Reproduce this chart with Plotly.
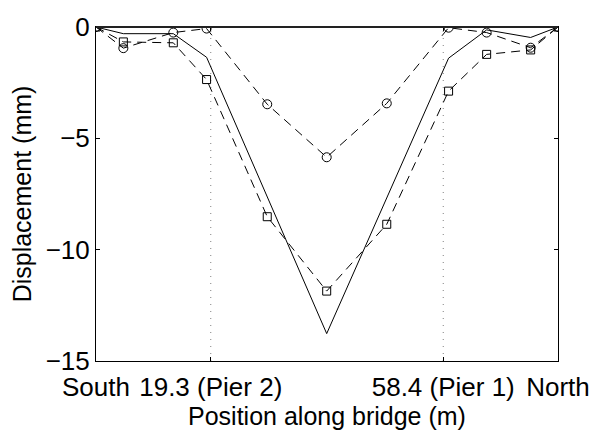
import plotly.graph_objects as go

# Positions along bridge (m)
x_pts = [0, 4.6, 13.0, 18.6, 28.8, 38.8, 48.9, 59.3, 65.7, 73.1, 77.7]
circle_disp = [0, -0.95, -0.25, -0.07, -3.47, -5.85, -3.43, -0.03, -0.25, -0.93, 0]
square_disp = [0, -0.67, -0.71, -2.36, -8.52, -11.86, -8.86, -2.88, -1.23, -1.03, 0]

x_solid = [0, 4.6, 13.0, 18.6, 38.8, 59.3, 65.7, 73.1, 77.7]
solid_disp = [0, -0.30, -0.30, -1.36, -13.77, -1.40, -0.13, -0.47, 0]

pier_x = [19.3, 58.4]
tick_vals = [0, 19.3, 58.4, 77.7]
tick_text = ["South", "19.3 (Pier 2)", "58.4 (Pier 1)", "North"]
y_ticks = [0, -5, -10, -15]

fig = go.Figure()

for px in pier_x:
    fig.add_trace(go.Scatter(x=[px, px], y=[-15, 0], mode="lines",
                             line=dict(color="#808080", width=1, dash="1px,6px"),
                             showlegend=False, hoverinfo="skip"))

fig.add_trace(go.Scatter(x=x_pts, y=circle_disp, mode="lines+markers",
                         line=dict(color="black", width=1, dash="9px,6px"),
                         marker=dict(symbol="circle-open", size=9,
                                     color="black", line=dict(color="black", width=1)),
                         showlegend=False))
fig.add_trace(go.Scatter(x=x_pts, y=square_disp, mode="lines+markers",
                         line=dict(color="black", width=1, dash="9px,6px"),
                         marker=dict(symbol="square-open", size=8,
                                     color="black", line=dict(color="black", width=1)),
                         showlegend=False))
fig.add_trace(go.Scatter(x=x_solid, y=solid_disp, mode="lines",
                         line=dict(color="black", width=1),
                         showlegend=False))

family = "Liberation Sans"
tick_font = dict(family=family, size=26, color="black")
title_font = dict(family=family, size=25, color="black")

fig.add_shape(type="line", xref="paper", yref="paper", x0=0, x1=1, y0=1, y1=1,
              line=dict(color="#222222", width=2))

fig.update_layout(
    width=602, height=432,
    margin=dict(l=96, r=33, t=15, b=63),
    paper_bgcolor="white", plot_bgcolor="white",
    font=dict(family=family, size=26, color="black"),
    xaxis=dict(range=[0, 77.7], tickvals=tick_vals, ticktext=tick_text,
               showline=True, linecolor="black", linewidth=1, mirror="ticks",
               ticks="inside", ticklen=4, tickcolor="black",
               showgrid=False, zeroline=False, ticklabelstandoff=3,
               title=dict(text="Position along bridge (m)", standoff=0, font=title_font),
               tickfont=tick_font),
    yaxis=dict(range=[-15, 0], tickvals=y_ticks,
               showline=True, linecolor="black", linewidth=1, mirror="ticks",
               ticks="inside", ticklen=4, tickcolor="black",
               showgrid=False, zeroline=False,
               title=dict(text="Displacement (mm)", standoff=6, font=title_font),
               tickfont=tick_font),
)

fig.write_html("out.html")
